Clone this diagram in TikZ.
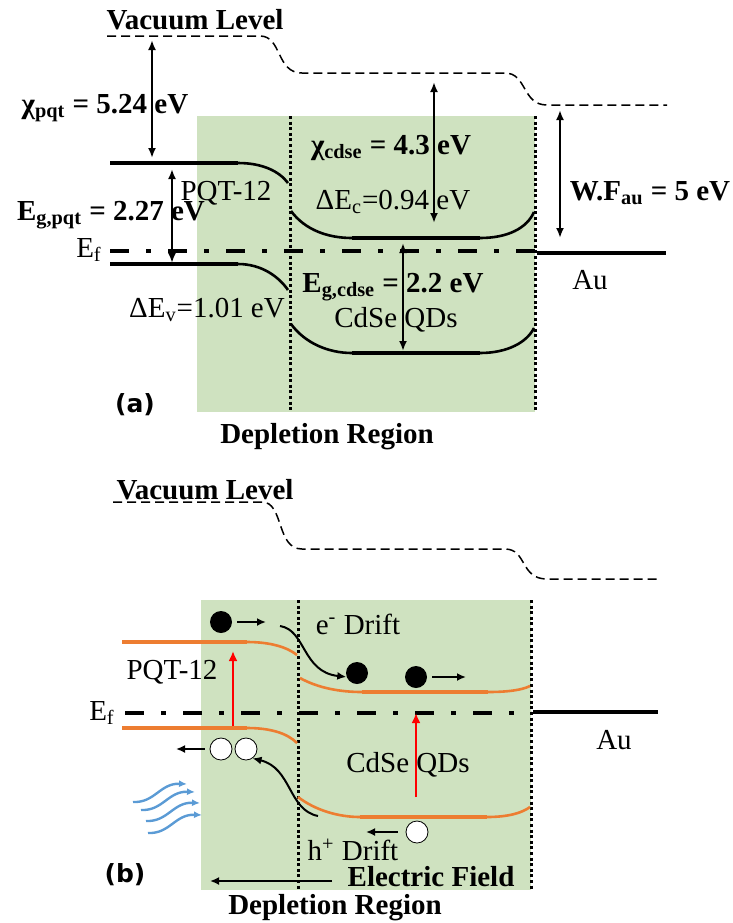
\documentclass[tikz,border=0pt]{standalone}
\usepackage{fontspec}
\setmainfont{Liberation Serif}
\newfontfamily\labfont{DejaVu Sans}
\usepackage{tikz}
\usetikzlibrary{arrows.meta}
\definecolor{depl}{RGB}{207,226,192}
\definecolor{orng}{RGB}{237,125,49}
\definecolor{lite}{RGB}{91,155,213}
\tikzset{
  txt/.style   = {font=\fontsize{14.5}{17}\selectfont, inner sep=0pt},
  btxt/.style  = {font=\fontsize{14.5}{17}\selectfont\bfseries, inner sep=0pt},
  panel/.style = {font=\labfont\fontsize{12.5}{15}\selectfont\bfseries, inner sep=0pt},
  vac/.style   = {line width=0.75pt, dash pattern=on 4.5pt off 2.5pt},
  lvl/.style   = {line width=2pt},
  bnd/.style   = {line width=1.3pt},
  fermi/.style = {line width=2.4pt, dash pattern=on 9.5pt off 8.5pt on 2.5pt off 8.5pt},
  edge/.style  = {line width=1.5pt, dash pattern=on 1.5pt off 1.3pt},
  dbl/.style   = {{Latex[length=5pt,width=4pt]}-{Latex[length=5pt,width=4pt]}, line width=1pt},
  ar/.style    = {-{Latex[length=4.5pt,width=4pt]}, line width=1pt},
  exc/.style   = {-{Latex[length=5pt,width=4.5pt]}, line width=1.4pt, red},
  elec/.style  = {circle, fill=black, minimum size=11pt, inner sep=0pt},
  hole/.style  = {circle, draw, fill=white, thin, minimum size=11pt, inner sep=0pt},
  ray/.style   = {-{Latex[length=4pt,width=3.5pt]}, line width=1.2pt, lite},
}

\begin{document}
\begin{tikzpicture}[x=0.5pt, y=-0.5pt]
\useasboundingbox (0,0) rectangle (733,923);

% (a) equilibrium
\fill[depl] (197,116) rectangle (535,412);
\foreach \x in {290,535}{\draw[edge] (\x,116) -- (\x,412);}

\draw[vac] (107,36) -- (260,36) .. controls (282,36) and (276,73) .. (302,73)
  -- (505,73) .. controls (527,73) and (522,105) .. (547,105) -- (667,105);

\draw[lvl] (110,163) -- (238,163);
\draw[bnd] (238,163) .. controls (262,163) and (279,171) .. (288,183);
\draw[lvl] (110,264) -- (238,264);
\draw[bnd] (238,264) .. controls (262,264) and (279,277) .. (288,290);
\draw[bnd] (291,211) .. controls (305,230) and (328,238) .. (352,238);
\draw[lvl] (352,238) -- (480,238);
\draw[bnd] (480,238) .. controls (508,238) and (527,228) .. (534,212);
\draw[bnd] (291,324) .. controls (305,343) and (328,353) .. (352,353);
\draw[lvl] (352,353) -- (480,353);
\draw[bnd] (480,353) .. controls (508,353) and (527,342) .. (534,328);
\draw[fermi] (110,251) -- (535,251);
\draw[lvl] (537,253) -- (666,253);

\coordinate (chiPt) at (152,40);  \coordinate (chiPb) at (152,158);
\coordinate (egPt)  at (172,169); \coordinate (egPb)  at (172,263);
\coordinate (chiCt) at (434,82);  \coordinate (chiCb) at (434,223);
\coordinate (egCt)  at (403,243); \coordinate (egCb)  at (403,351);
\coordinate (wfT)   at (560,110); \coordinate (wfB)   at (560,238);
\foreach \a/\b in {chiPt/chiPb, egPt/egPb, chiCt/chiCb, egCt/egCb, wfT/wfB}{\draw[dbl] (\a) -- (\b);}

\node[btxt] (vacA)  at (195,20)  {Vacuum Level};
\node[btxt] (chiP)  at (105,108) {χ\textsubscript{pqt} = 5.24 eV};
\node[btxt] (egP)   at (111,215) {E\textsubscript{g,pqt} = 2.27 eV};
\node[txt]  (efA)   at (89,250)  {E\textsubscript{f}};
\node[txt]  (pqtA)  at (226,193) {PQT-12};
\node[txt]  (dEv)   at (207,310) {ΔE\textsubscript{v}=1.01 eV};
\node[btxt] (chiC)  at (391,148) {χ\textsubscript{cdse} = 4.3 eV};
\node[txt]  (dEc)   at (393,202) {ΔE\textsubscript{c}=0.94 eV};
\node[btxt] (egC)   at (393,287) {E\textsubscript{g,cdse} = 2.2 eV};
\node[txt]  (cdseA) at (396,320) {CdSe QDs};
\node[btxt] (wfA)   at (650,193) {W.F\textsubscript{au} = 5 eV};
\node[txt]  (auA)   at (590,280) {Au};
\node[panel] (labA) at (135,405) {(a)};
\node[btxt] (depA)  at (327,437) {Depletion Region};

% (b) under illumination
\fill[depl] (201,600) rectangle (531,890);
\foreach \x in {298,531}{\draw[edge] (\x,600) -- (\x,890);}

\draw[vac] (113,502) -- (262,502) .. controls (284,502) and (276,549) .. (302,549)
  -- (505,549) .. controls (527,549) and (520,579) .. (547,579) -- (660,579);

\draw[orng, lvl] (122,642) -- (247,642);
\draw[orng, bnd] (247,642) .. controls (270,642) and (287,647) .. (297,655);
\draw[orng, lvl] (122,728) -- (247,728);
\draw[orng, bnd] (247,728) .. controls (270,728) and (287,733) .. (297,743);
\draw[orng, bnd] (300,678) .. controls (318,688) and (340,692) .. (362,692);
\draw[orng, lvl] (362,692) -- (488,692);
\draw[orng, bnd] (488,692) .. controls (508,692) and (522,690) .. (530,686);
\draw[orng, bnd] (298,797) .. controls (315,810) and (338,817) .. (360,817);
\draw[orng, lvl] (360,817) -- (487,817);
\draw[orng, bnd] (487,817) .. controls (508,817) and (522,813) .. (530,807);
\draw[fermi] (125,713) -- (531,713);
\draw[lvl] (533,712) -- (658,712);

\node[elec] (e1) at (221,622) {};
\node[elec] (e2) at (357,673) {};
\node[elec] (e3) at (416,677) {};
\node[hole] (h1) at (221,749) {};
\node[hole] (h2) at (246,749) {};
\node[hole] (h3) at (417,832) {};

\coordinate (e1m) at (266,622);
\coordinate (e3m) at (466,677);
\coordinate (h1m) at (176,749);
\coordinate (h3m) at (366,832);
\draw[ar, shorten <=2.5pt] (e1) -- (e1m);
\draw[ar, shorten <=2.5pt] (e3) -- (e3m);
\draw[ar, shorten <=2.5pt] (h1) -- (h1m);
\draw[ar, shorten <=4pt] (h3) -- (h3m);

\coordinate (eds) at (280,626);
\draw[ar] (eds) .. controls (306,630) and (302,672) .. (e2.200);
\coordinate (hds) at (318,816);
\draw[ar] (hds) .. controls (288,810) and (292,768) .. (h2.-55);

\coordinate (x1b) at (233,726); \coordinate (x1t) at (233,651);
\coordinate (x2b) at (416,797); \coordinate (x2t) at (416,713);
\draw[exc] (x1b) -- (x1t);
\draw[exc] (x2b) -- (x2t);

\coordinate (fs) at (332,881); \coordinate (fe) at (210,881);
\draw[ar] (fs) -- (fe);

\foreach \dx/\dy in {0/0, 8/8, 13/19, 15/31}{
  \draw[ray] (133+\dx,802+\dy) .. controls (155+\dx,803+\dy) and (160+\dx,783+\dy) .. (187+\dx,784+\dy);
}

\node[btxt] (vacB)   at (205,490) {Vacuum Level};
\node[txt]  (eDrift) at (358,624) {e\textsuperscript{-} Drift};
\node[txt]  (pqtB)   at (172,672) {PQT-12};
\node[txt]  (efB)    at (102,713) {E\textsubscript{f}};
\node[txt]  (auB)    at (614,740) {Au};
\node[txt]  (cdseB)  at (408,765) {CdSe QDs};
\node[txt]  (hDrift) at (353,850) {h\textsuperscript{+} Drift};
\node[btxt] (field)  at (431,877) {Electric Field};
\node[panel] (labB)  at (125,875) {(b)};
\node[btxt] (depB)   at (335,908) {Depletion Region};
\end{tikzpicture}
\end{document}
